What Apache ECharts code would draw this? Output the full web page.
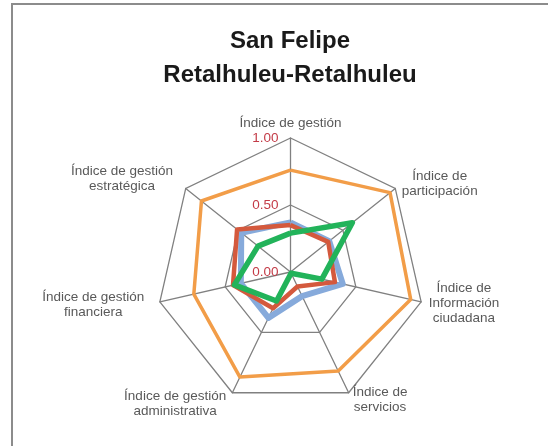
<!DOCTYPE html>
<html>
<head>
<meta charset="utf-8">
<script src="https://cdn.jsdelivr.net/npm/echarts@6/dist/echarts.min.js"></script>
<style>
html, body { margin: 0; padding: 0; background: #fff; }
#chart { width: 548px; height: 446px; }
</style>
</head>
<body>
<div id="chart"></div>
<script>
// datos del grafico (orden de las agujas del reloj, empezando arriba)
var titulo = 'San Felipe\nRetalhuleu-Retalhuleu';
var indicadores = [
	'Índice de gestión',
	'Índice de\nparticipación',
	'Índice de\nInformación\nciudadana',
	'Índice de\nservicios',
	'Índice de gestión\nadministrativa',
	'Índice de gestión\nfinanciera',
	'Índice de gestión\nestratégica'
];
var ejeMin = 0;
var ejeMax = 1;
var serieNaranja = [0.76, 0.95, 0.92, 0.82, 0.87, 0.74, 0.85];
var serieRoja = [0.35, 0.36, 0.34, 0.12, 0.30, 0.44, 0.51];
var serieAzul = [0.37, 0.37, 0.40, 0.20, 0.38, 0.38, 0.47];
var serieVerde = [0.29, 0.59, 0.24, 0.01, 0.24, 0.43, 0.31];

// estilo de las etiquetas (ancho del bloque y separacion de cada una)
var anchoEtiqueta = [104, 78, 72, 56, 104, 104, 104];
var separacion = [7, 7, 7, 8, 12, 15, 15];

// echarts pone los ejes en sentido contrario, se reordena
var orden = [0, 6, 5, 4, 3, 2, 1];
function reordenar(arr) {
	return orden.map(function(i) { return arr[i]; });
}

var rich = {};
for (var i = 0; i < indicadores.length; i++) {
	rich['w' + i] = { width: anchoEtiqueta[i], align: 'center', lineHeight: 15,
		fontSize: 13.5, color: '#595959', fontFamily: 'Liberation Sans' };
}

var indicator = reordenar(indicadores.map(function(n, i) {
	var ind = { name: n, min: ejeMin, max: ejeMax, nameGap: separacion[i] };
	if (i == 0) ind.axisLabel = { show: true }; //solo el primer eje lleva numeros
	return ind;
}));

var myChart = echarts.init(document.getElementById('chart'));
myChart.setOption({
	animation: false,
	title: {
		text: titulo,
		left: 285,
		top: 19,
		textAlign: 'center',
		textStyle: { fontFamily: 'Liberation Sans', fontWeight: 'bold', fontSize: 24,
			color: '#1a1a1a', lineHeight: 34 }
	},
	graphic: [{
		type: 'rect',
		shape: { x: 12, y: 4, width: 600, height: 500 },
		style: { fill: 'none', stroke: '#8c8c8c', lineWidth: 2 },
		silent: true
	}],
	radar: {
		center: [290.5, 272],
		radius: 134,
		startAngle: 90,
		splitNumber: 2,
		shape: 'polygon',
		indicator: indicator,
		axisName: {
			formatter: function(name) {
				var k = indicadores.indexOf(name);
				return name.split('\n').map(function(l) {
					return '{w' + k + '|' + l + '}';
				}).join('\n');
			},
			rich: rich
		},
		axisLabel: {
			show: false,
			margin: 12,
			color: '#C33B47',
			fontSize: 13.5,
			fontFamily: 'Liberation Sans',
			formatter: function(v) { return v.toFixed(2); }
		},
		axisLine: { lineStyle: { color: '#808080', width: 1.3 } },
		splitLine: { lineStyle: { color: '#808080', width: 1.3 } },
		splitArea: { show: false },
		axisTick: { show: false }
	},
	series: [{
		type: 'radar',
		symbol: 'none',
		silent: true,
		data: [
			{ name: 'Serie azul', value: reordenar(serieAzul), lineStyle: { color: '#86AADB', width: 6 } },
			{ name: 'Serie roja', value: reordenar(serieRoja), lineStyle: { color: '#D4593D', width: 4.5 } },
			{ name: 'Serie naranja', value: reordenar(serieNaranja), lineStyle: { color: '#F29D48', width: 3.5 } },
			{ name: 'Serie verde', value: reordenar(serieVerde), lineStyle: { color: '#22B35A', width: 5.5 } }
		]
	}]
});
</script>
</body>
</html>
